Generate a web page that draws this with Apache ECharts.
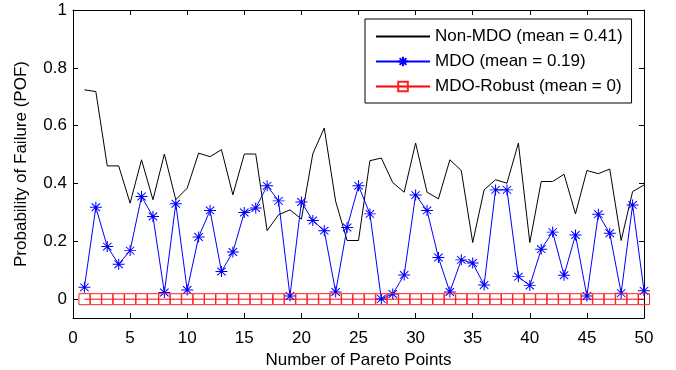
<!DOCTYPE html>
<html><head><meta charset="utf-8">
<script src="https://cdn.jsdelivr.net/npm/echarts@6/dist/echarts.min.js"></script>
<style>html,body{margin:0;padding:0;background:#fff}#c{width:676px;height:370px}</style>
</head><body><div id="c"></div>
<script>
const paretoPoints = [1,2,3,4,5,6,7,8,9,10,11,12,13,14,15,16,17,18,19,20,21,22,23,24,25,26,27,28,29,30,31,32,33,34,35,36,37,38,39,40,41,42,43,44,45,46,47,48,49,50];
const nonMDO = [0.724,0.718,0.461,0.461,0.332,0.482,0.344,0.502,0.344,0.384,
                0.505,0.493,0.517,0.361,0.502,0.502,0.237,0.292,0.309,0.277,
                0.503,0.592,0.338,0.203,0.203,0.479,0.488,0.403,0.370,0.540,
                0.370,0.347,0.482,0.445,0.196,0.378,0.413,0.401,0.540,0.196,
                0.407,0.407,0.432,0.295,0.445,0.434,0.450,0.203,0.372,0.395];
const mdo = [0.041,0.318,0.182,0.121,0.168,0.355,0.286,0.023,0.330,0.032,
             0.215,0.307,0.096,0.163,0.300,0.315,0.392,0.340,0.011,0.336,
             0.272,0.237,0.025,0.248,0.392,0.295,0.001,0.018,0.084,0.360,
             0.307,0.144,0.025,0.136,0.125,0.049,0.378,0.378,0.078,0.047,
             0.173,0.232,0.083,0.222,0.011,0.294,0.228,0.021,0.326,0.029];
const mdoRobust = [0,0,0,0,0,0,0,0,0,0,0,0,0,0,0,0,0,0,0,0,0,0,0,0,0,0,0,0,0,0,0,0,0,0,0,0,0,0,0,0,0,0,0,0,0,0,0,0,0,0];
const seriesNames = ['Non-MDO (mean = 0.41)', 'MDO (mean = 0.19)', 'MDO-Robust (mean = 0)'];
const yTicks = [0, 0.2, 0.4, 0.6, 0.8, 1];
const xTicks = [0, 5, 10, 15, 20, 25, 30, 35, 40, 45, 50];
const xTitle = 'Number of Pareto Points';
const yTitle = 'Probability of Failure (POF)';

const FONT = "'Liberation Sans', Arial, sans-serif";
const star = 'path://M0,50L100,50M50,0L50,100M15,15L85,85M85,15L15,85';
const pairs = arr => paretoPoints.map((x, i) => [x, arr[i]]);

function xAx(pos, showLabel) {
  return {
    type: 'value', position: pos, min: 0, max: 50, interval: 5,
    axisLine: { show: true, onZero: false, lineStyle: { color: '#000', width: 1 } },
    axisTick: { show: true, inside: true, length: 5, customValues: xTicks, lineStyle: { color: '#000' } },
    axisLabel: { show: showLabel, margin: 12, customValues: xTicks, fontSize: 17, fontFamily: FONT, color: '#000' },
    splitLine: { show: false },
    name: showLabel ? xTitle : '', nameLocation: 'middle', nameGap: 29,
    nameTextStyle: { fontSize: 17, fontFamily: FONT, color: '#000' }
  };
}
function yAx(pos, showLabel) {
  return {
    type: 'value', position: pos, min: -0.065, max: 1,
    axisLine: { show: true, onZero: false, lineStyle: { color: '#000', width: 1 } },
    axisTick: { show: true, inside: true, length: 5, customValues: yTicks, lineStyle: { color: '#000' } },
    axisLabel: { show: showLabel, margin: 6, customValues: yTicks, fontSize: 17, fontFamily: FONT, color: '#000' },
    splitLine: { show: false },
    name: showLabel ? yTitle : '', nameLocation: 'middle', nameGap: 43,
    nameTextStyle: { fontSize: 17, fontFamily: FONT, color: '#000' }
  };
}

const chart = echarts.init(document.getElementById('c'));
chart.setOption({
  animation: false,
  backgroundColor: '#fff',
  grid: { left: 73, right: 32, top: 10, bottom: 52, containLabel: false, outerBoundsMode: 'none' },
  xAxis: [xAx('bottom', true), xAx('top', false)],
  yAxis: [yAx('left', true), yAx('right', false)],
  legend: {
    orient: 'vertical', left: 365, top: 19,
    padding: [9, 9, 8, 10], itemWidth: 54, itemHeight: 12, itemGap: 8,
    borderColor: '#000', borderWidth: 1, backgroundColor: '#fff',
    textStyle: { fontSize: 17, fontFamily: FONT, color: '#000' },
    data: seriesNames
  },
  series: [
    { name: seriesNames[0], type: 'line', data: pairs(nonMDO), symbol: 'none',
      lineStyle: { color: '#000', width: 1 },
      itemStyle: { color: 'rgba(0,0,0,0)', borderWidth: 0 } },
    { name: seriesNames[1], type: 'line', data: pairs(mdo), symbol: star, symbolSize: [12, 11],
      lineStyle: { color: '#0000ff', width: 1 },
      itemStyle: { color: 'none', borderColor: '#0000ff', borderWidth: 1 } },
    { name: seriesNames[2], type: 'line', data: pairs(mdoRobust), symbol: 'rect', symbolSize: 11,
      lineStyle: { color: '#ff0000', width: 1 },
      itemStyle: { color: 'none', borderColor: '#ff2020', borderWidth: 1 } }
  ]
});
</script>
</body></html>
